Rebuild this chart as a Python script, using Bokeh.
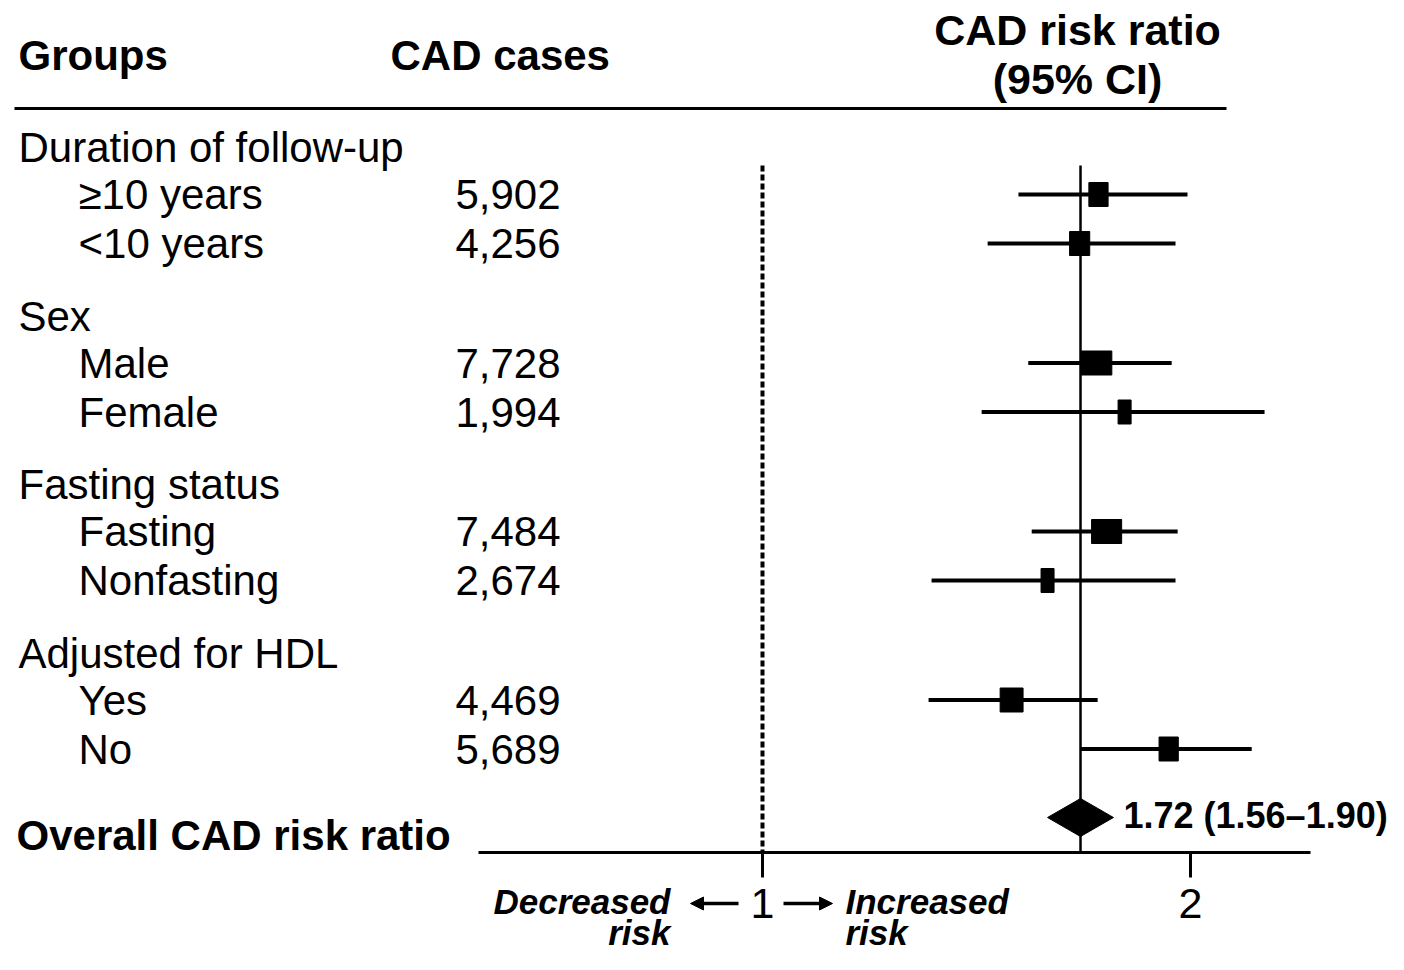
from bokeh.plotting import figure
from bokeh.models import Range1d, Arrow, NormalHead
from bokeh.core.properties import value
from bokeh.embed import file_html
from bokeh.resources import INLINE

# ---------------- data ----------------
group_titles = ["Duration of follow-up", "Sex", "Fasting status", "Adjusted for HDL"]
subgroups = ["≥10 years", "<10 years", "Male", "Female", "Fasting", "Nonfasting", "Yes", "No"]
cad_cases = ["5,902", "4,256", "7,728", "1,994", "7,484", "2,674", "4,469", "5,689"]
risk_ratio = [1.785, 1.741, 1.780, 1.846, 1.804, 1.666, 1.582, 1.949]
ci_low = [1.598, 1.526, 1.621, 1.512, 1.629, 1.395, 1.388, 1.743]
ci_high = [1.993, 1.965, 1.956, 2.173, 1.970, 1.965, 1.783, 2.143]
box_weight = [0.62, 0.65, 1.00, 0.42, 0.97, 0.42, 0.74, 0.62]
overall_rr = 1.743
overall_lo = 1.666
overall_hi = 1.820
overall_label = "1.72 (1.56–1.90)"
null_value = 1
ticks = [1, 2]
tick_labels = ["1", "2"]

# ---------------- layout ----------------
W, H = 1388, 954
PX_PER_UNIT = 428.0
X_AT_ONE = 762.0
x0 = null_value - X_AT_ONE / PX_PER_UNIT
x1 = x0 + W / PX_PER_UNIT

FONT = value("Liberation Sans")
FS = "42px"

p = figure(width=W, height=H, x_range=Range1d(x0, x1), y_range=Range1d(H, 0),
           x_axis_type=None, y_axis_type=None, toolbar_location=None,
           output_backend="svg", min_border=0)
p.extra_x_ranges = {"px": Range1d(0, W)}
p.grid.visible = False
p.outline_line_color = None
p.background_fill_color = "white"
p.border_fill_color = "white"

# row positions
first_group_y = 147.0
group_step = 168.5
item_offsets = [47.0, 96.0]
group_y = [first_group_y + i * group_step for i in range(len(group_titles))]
row_y = []
for gy in group_y:
    for off in item_offsets:
        row_y.append(gy + off)

overall_y = 817
axis_y = 852
line_top = 165

# ---------------- header ----------------
p.text(x=[18, 390], y=[55, 55], text=["Groups", "CAD cases"], x_range_name="px",
       text_font=FONT, text_font_size=FS, text_font_style="bold",
       text_baseline="middle", text_align="left", text_color="black")
p.text(x=[1077, 1077], y=[29, 78], text=["CAD risk ratio", "(95% CI)"], x_range_name="px",
       text_font=FONT, text_font_size="43px", text_font_style="bold",
       text_baseline="middle", text_align="center", text_color="black")
p.segment(x0=[14], y0=[108], x1=[1226], y1=[108], x_range_name="px",
          line_color="black", line_width=3)

# ---------------- table text ----------------
p.text(x=[18] * len(group_titles), y=group_y, text=group_titles, x_range_name="px",
       text_font=FONT, text_font_size=FS, text_baseline="middle", text_align="left",
       text_color="black")
p.text(x=[78] * len(subgroups), y=row_y, text=subgroups, x_range_name="px",
       text_font=FONT, text_font_size=FS, text_baseline="middle", text_align="left",
       text_color="black")
p.text(x=[560] * len(cad_cases), y=row_y, text=cad_cases, x_range_name="px",
       text_font=FONT, text_font_size=FS, text_baseline="middle", text_align="right",
       text_color="black")
p.text(x=[16], y=[835], text=["Overall CAD risk ratio"], x_range_name="px",
       text_font=FONT, text_font_size=FS, text_font_style="bold",
       text_baseline="middle", text_align="left", text_color="black")

# ---------------- reference lines ----------------
p.segment(x0=[null_value], y0=[line_top], x1=[null_value], y1=[axis_y],
          line_color="black", line_width=4, line_dash="6 3")
p.segment(x0=[overall_rr], y0=[line_top], x1=[overall_rr], y1=[axis_y],
          line_color="black", line_width=2.5)

# ---------------- forest marks ----------------
p.segment(x0=ci_low, y0=row_y, x1=ci_high, y1=row_y, line_color="black", line_width=4)
p.rect(x=risk_ratio, y=row_y, width=[31 * w for w in box_weight], height=24,
       width_units="screen", height_units="screen",
       fill_color="black", line_color="black")

half_h = 19
p.patch(x=[overall_lo, overall_rr, overall_hi, overall_rr],
        y=[overall_y, overall_y - half_h, overall_y, overall_y + half_h],
        fill_color="black", line_color="black")
p.text(x=[1123], y=[815], text=[overall_label], x_range_name="px",
       text_font=FONT, text_font_size="36px", text_font_style="bold",
       text_baseline="middle", text_align="left", text_color="black")

# ---------------- axis ----------------
p.segment(x0=[478], y0=[axis_y], x1=[1310], y1=[axis_y], x_range_name="px",
          line_color="black", line_width=3)
p.segment(x0=ticks, y0=[axis_y] * len(ticks), x1=ticks, y1=[axis_y + 25] * len(ticks),
          line_color="black", line_width=3)
p.text(x=ticks, y=[903] * len(ticks), text=tick_labels,
       text_font=FONT, text_font_size="43px", text_baseline="middle", text_align="center",
       text_color="black")

p.text(x=[670, 670], y=[901, 932], text=["Decreased", "risk"], x_range_name="px",
       text_font=FONT, text_font_size="35px", text_font_style="bold italic",
       text_baseline="middle", text_align="right", text_color="black")
p.text(x=[845, 845], y=[901, 932], text=["Increased", "risk"], x_range_name="px",
       text_font=FONT, text_font_size="35px", text_font_style="bold italic",
       text_baseline="middle", text_align="left", text_color="black")

p.add_layout(Arrow(end=NormalHead(size=13, fill_color="black", line_color="black"),
                   x_start=738, y_start=903, x_end=690, y_end=903, x_range_name="px",
                   line_color="black", line_width=3.5))
p.add_layout(Arrow(end=NormalHead(size=13, fill_color="black", line_color="black"),
                   x_start=783, y_start=903, x_end=832, y_end=903, x_range_name="px",
                   line_color="black", line_width=3.5))

open("out.html", "w").write(file_html(p, INLINE))
